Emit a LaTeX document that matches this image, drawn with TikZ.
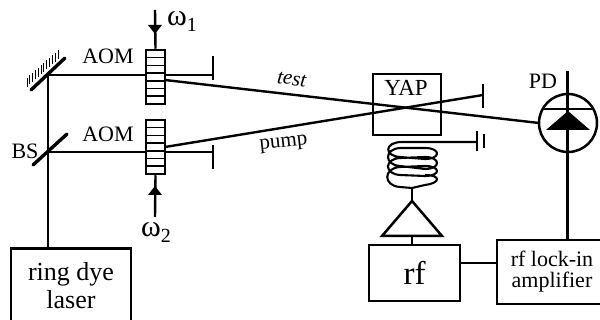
\documentclass[tikz,border=0pt]{standalone}
\usepackage{fontspec}
\setmainfont{Liberation Serif}
\usetikzlibrary{calc}
\tikzset{
 lbl/.style={inner sep=0pt,font=\fontsize{22}{24}\selectfont,text=black},
 boxed/.style={draw,line width=2.5pt,inner sep=0pt,align=center},
 beam/.style={line width=2.4pt},
 stopbar/.style={line width=2.4pt},
 thick mirror/.style={line width=3.4pt,line cap=round},
}
\begin{document}
\begin{tikzpicture}[x=1pt,y=-1pt]
\useasboundingbox (0,0) rectangle (600,320);
\coordinate (mir) at (48,75);
\coordinate (bs) at (48,152);
\coordinate (stopA) at (213,75);
\coordinate (stopB) at (213,152);
\node[boxed,font=\fontsize{26}{28}\selectfont,minimum width=120pt,minimum height=75pt] (laser) at (71,286) {\raisebox{2pt}{ring dye}\\[-2pt]laser};
\node[boxed,minimum width=91pt,minimum height=56pt,font=\fontsize{33}{34}\selectfont] (rf) at (414.5,273) {rf};
\node[boxed,minimum width=110pt,minimum height=64pt,font=\fontsize{22}{23}\selectfont] (lock) at (552,272) {rf lock-in\\[-2pt]amplifier};
\node[boxed,minimum width=68pt,minimum height=61pt] (yap) at (407,104.5) {};
\node[lbl,font=\fontsize{23}{24}\selectfont,anchor=base] at (406,96) {YAP};
\node[boxed,minimum width=19pt,minimum height=54pt,fill=white] (aomA) at (155.5,77) {};
\node[boxed,minimum width=19pt,minimum height=54pt,fill=white] (aomB) at (155.5,147) {};
\draw[beam] (laser.north -| bs) -- (mir);
\draw[beam] (mir) -- (aomA.west |- mir);
\draw[beam] (bs) -- (aomB.west |- bs);
\draw[beam] (aomA.east |- mir) -- (stopA);
\draw[beam] (aomB.east |- bs) -- (stopB);
\draw[stopbar] (213,56) -- (213,80);
\draw[stopbar] (213,145) -- (213,169);
\foreach \k in {1,...,6}{
 \draw[line width=1.5pt] (aomA.west |- 0,50+\k*7.7) -- (aomA.east |- 0,50+\k*7.7);
 \draw[line width=1.5pt] (aomB.west |- 0,120+\k*7.7) -- (aomB.east |- 0,120+\k*7.7);
}
\draw[thick mirror] (31,90) -- (65,58);
\foreach \t in {0,...,11}{
 \draw[line width=1pt] ($(27,87)!\t/11!(58,59)$) -- ++(0,-9);
}
\draw[thick mirror] (33,165) -- (67,134);
\coordinate (tS) at (165,80);
\coordinate (pS) at (165,147);
\coordinate (pE) at (483,95);
\draw[beam] (tS) -- (539,123);
\draw[beam] (pS) -- (pE);
\draw[stopbar] (483,84) -- (483,108);
\draw[line width=2.4pt] (155,10) -- (aomA.north);
\fill (148,25) -- (162,25) -- (155,34) -- cycle;
\draw[line width=2.4pt] (aomB.south) -- (155,217);
\fill (148,195) -- (162,195) -- (155,186) -- cycle;
\node[draw,circle,line width=2.5pt,minimum size=58pt,inner sep=0pt] (pd) at (568,123) {};
\draw[line width=2.4pt] (567.5,71) -- (lock.north -| 567.5,0);
\draw[line width=2.2pt] (543,109) -- (592,109);
\fill (568,111) -- (590,130) -- (546,130) -- cycle;
\coordinate (capL) at (476,142);
\draw[line width=2.1pt,line join=round]
  (capL) -- (402,142)
  .. controls (384,142) and (384,156) .. (400,157) -- (425,159)
  .. controls (441,159) and (441,148) .. (425,148) -- (400,148)
  .. controls (384,149) and (384,165) .. (400,166) -- (425,169)
  .. controls (441,169) and (441,157) .. (425,157) -- (400,158)
  .. controls (384,159) and (384,174) .. (400,175) -- (425,176)
  .. controls (441,176) and (441,166) .. (425,166) -- (400,167)
  .. controls (383,168) and (383,186) .. (400,187) -- (412,188) -- (425,185)
  .. controls (441,183) and (441,175) .. (425,175);
\draw[line width=2.4pt] (477,131) -- (477,151);
\draw[line width=2.4pt] (484,134) -- (484,148);
\coordinate (ampIn) at (412,201);
\draw[line width=2.4pt] (412,188) -- (ampIn);
\draw[line width=2.5pt,line join=miter] (ampIn) -- (442,236) -- (382,236) -- cycle;
\draw[line width=2.4pt] (412,236) -- (412,245);
\draw[line width=2.4pt] (rf.east |- 0,263) -- (lock.west |- 0,263);
\node[lbl,anchor=base] at (108,64) {AOM};
\node[lbl,anchor=base] at (108,141.5) {AOM};
\node[lbl,anchor=base] at (25,159) {BS};
\node[lbl,anchor=base] at (543,89) {PD};
\node[lbl,anchor=base west] at (167,26) {\fontsize{30}{30}\selectfont ω\raisebox{-6pt}{\fontsize{20}{20}\selectfont 1}};
\node[lbl,anchor=base west] at (141,237) {\fontsize{30}{30}\selectfont ω\raisebox{-6pt}{\fontsize{20}{20}\selectfont 2}};
\node[lbl,font=\fontsize{21}{22}\selectfont\itshape,rotate=-7,anchor=base] at (291,85) {test};
\node[lbl,font=\fontsize{21}{22}\selectfont,rotate=6,anchor=base] at (284,147) {pump};
\end{tikzpicture}
\end{document}
